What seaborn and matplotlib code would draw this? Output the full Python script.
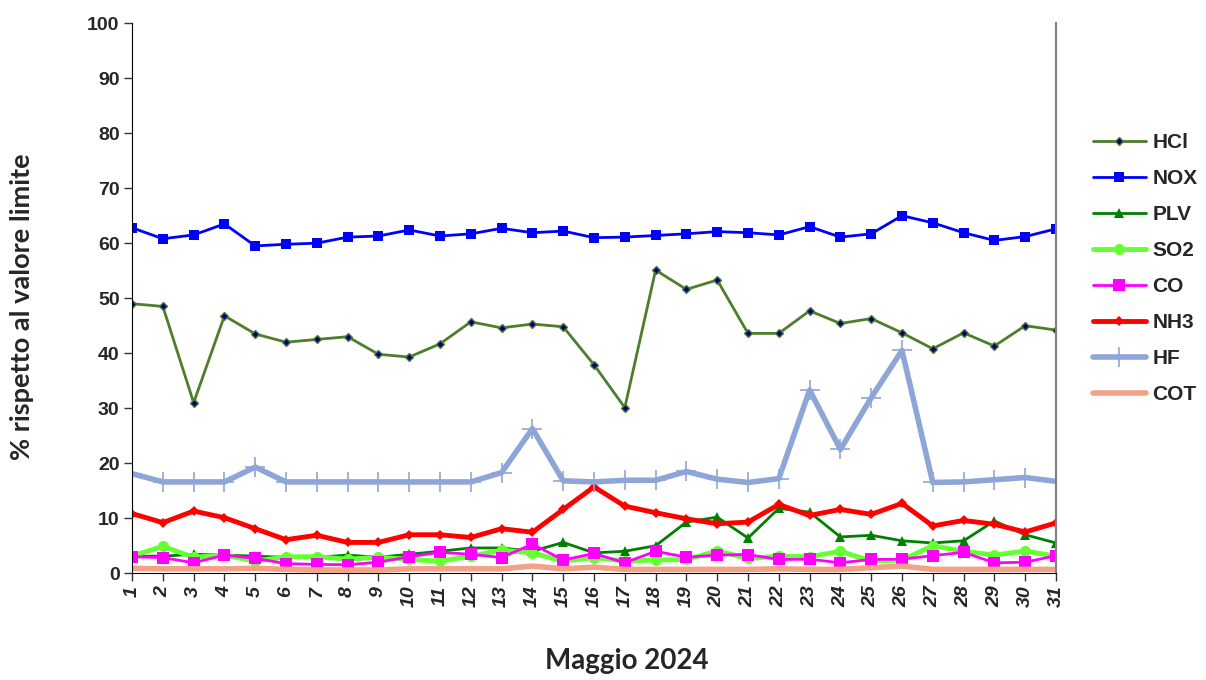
import pandas as pd
import matplotlib.pyplot as plt
import seaborn as sns

days = list(range(1, 32))

hcl = [49, 48.5, 31, 46.8, 43.5, 42, 42.5, 43, 39.8, 39.3, 41.7, 45.7, 44.6, 45.3, 44.8, 37.9,
       30.1, 55.1, 51.6, 53.3, 43.6, 43.6, 47.7, 45.4, 46.3, 43.7, 40.8, 43.7, 41.3, 45, 44.2]
nox = [62.8, 60.8, 61.5, 63.5, 59.5, 59.8, 60, 61.1, 61.3, 62.4, 61.3, 61.7, 62.7, 61.9, 62.2, 61,
       61.1, 61.4, 61.7, 62.1, 61.9, 61.5, 63, 61.1, 61.7, 65, 63.7, 61.9, 60.5, 61.2, 62.6]
plv = [3.1, 3.1, 3.45, 3.3, 3.1, 2.9, 2.9, 3.3, 2.9, 3.45, 4.0, 4.6, 4.6, 4.0, 5.6, 3.7,
       4.0, 5.0, 9.3, 10.2, 6.4, 11.8, 11.1, 6.6, 6.9, 5.9, 5.5, 5.9, 9.5, 7.0, 5.5]
so2 = [3.1, 4.9, 2.9, 3.3, 2.2, 3.0, 3.0, 2.55, 2.9, 2.5, 2.2, 3.1, 4.2, 3.7, 2.2, 2.85,
       2.2, 2.4, 2.5, 4.05, 2.7, 3.1, 3.0, 4.0, 2.2, 2.4, 5.0, 4.0, 3.3, 4.05, 3.1]
co = [3.0, 2.85, 1.9, 3.3, 2.7, 1.75, 1.6, 1.55, 2.0, 3.0, 3.8, 3.45, 2.85, 5.3, 2.4, 3.6,
      1.9, 4.0, 2.9, 3.3, 3.4, 2.5, 2.55, 1.9, 2.5, 2.55, 3.2, 3.8, 1.9, 2.0, 3.2]
nh3 = [10.85, 9.2, 11.3, 10.1, 8.1, 6.1, 6.9, 5.6, 5.6, 7.0, 7.0, 6.5, 8.1, 7.45, 11.6, 15.7,
       12.2, 11.0, 9.9, 9.0, 9.3, 12.5, 10.5, 11.6, 10.7, 12.7, 8.6, 9.6, 8.9, 7.5, 9.15]
hf = [18.1, 16.6, 16.6, 16.6, 19.3, 16.6, 16.6, 16.6, 16.6, 16.6, 16.6, 16.6, 18.3, 26.3, 16.8, 16.6,
      16.9, 16.9, 18.5, 17.1, 16.5, 17.2, 33.3, 22.5, 31.9, 40.5, 16.5, 16.6, 17.0, 17.4, 16.7]
cot = [0.9, 0.8, 0.8, 0.8, 0.9, 0.7, 0.6, 0.6, 0.6, 0.8, 0.8, 0.8, 0.8, 1.3, 0.8, 1.1,
       0.7, 0.7, 0.7, 0.7, 0.7, 0.8, 0.7, 0.7, 1.0, 1.3, 0.7, 0.7, 0.7, 0.7, 0.7]

series = {"HCl": hcl, "NOX": nox, "PLV": plv, "SO2": so2,
          "CO": co, "NH3": nh3, "HF": hf, "COT": cot}
df = pd.DataFrame(series)
df["day"] = days

styles = {
    "HCl": dict(color="#4E7D2C", lw=2, marker="D", ms=4, mfc="#000080", mec="#4E7D2C", mew=1),
    "NOX": dict(color="#0000FF", lw=2, marker="s", ms=7, mfc="#0000FF", mec="#0000FF", mew=0),
    "PLV": dict(color="#008000", lw=2, marker="^", ms=7, mfc="#008000", mec="#008000", mew=0),
    "SO2": dict(color="#66FF33", lw=3.5, marker="o", ms=8, mfc="#66FF33", mec="#66FF33", mew=0),
    "CO": dict(color="#FF00FF", lw=2, marker="s", ms=8, mfc="#FF00FF", mec="#FF00FF", mew=0),
    "NH3": dict(color="#FF0000", lw=3.5, marker="D", ms=5, mfc="#FF0000", mec="#FF0000", mew=0),
    "HF": dict(color="#8EA5D8", lw=4, marker="+", ms=14, mfc="#8EA5D8", mec="#8EA5D8", mew=1.2),
    "COT": dict(color="#F2A285", lw=4, marker=None),
}

sns.set_style("white")
arial = ["Liberation Sans", "DejaVu Sans"]
plt.rcParams["font.family"] = arial

fig = plt.figure(figsize=(12.06, 6.8), dpi=100)
ax = fig.add_axes([0.1095, 0.157, 0.7661, 0.809])

for name in series:
    st = styles[name]
    sns.lineplot(data=df, x="day", y=name, ax=ax, label=name, color=st["color"],
                 linewidth=st["lw"], marker=st["marker"],
                 markersize=st.get("ms", 0), markerfacecolor=st.get("mfc"),
                 markeredgecolor=st.get("mec"), markeredgewidth=st.get("mew", 0))

ax.set_xlim(1, 31)
ax.set_ylim(0, 100)
ax.set_xticks(days)
ax.set_xticklabels([str(d) for d in days], rotation=90, fontstyle="italic",
                   fontweight="bold", fontsize=14, family=arial)
ax.set_yticks(range(0, 101, 10))
ax.set_yticklabels([str(v) for v in range(0, 101, 10)], fontweight="bold", fontsize=14,
                   family=arial)
ax.tick_params(axis="both", direction="out", length=6, width=1, color="#333333",
               bottom=True, left=True, pad=3)

ax.spines["top"].set_visible(False)
ax.spines["right"].set_color("#808080")
ax.spines["right"].set_linewidth(1.5)
ax.spines["left"].set_color("black")
ax.spines["bottom"].set_color("black")

ax.set_xlabel("Maggio 2024", fontsize=20, fontweight="bold", family=["Lato", "DejaVu Sans"],
              va="center")
ax.xaxis.set_label_coords(0.535, -0.16)
ax.set_ylabel("% rispetto al valore limite", fontsize=19.5, fontweight="bold",
              family=["Lato", "DejaVu Sans"], va="center")
ax.yaxis.set_label_coords(-0.119, 0.484)

ax.legend(loc="center left", bbox_to_anchor=(0.8907, 0.605), bbox_transform=fig.transFigure,
          frameon=False, prop={"weight": "bold", "size": 15, "family": arial},
          handlelength=2.55, labelspacing=0.82, handletextpad=0.3)

fig.savefig("out.png", dpi=100)
